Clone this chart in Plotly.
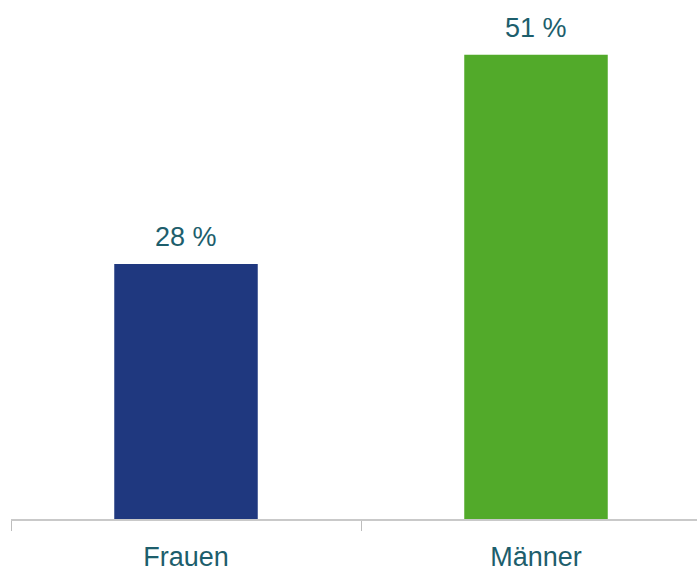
import plotly.graph_objects as go

categories = ["Frauen", "Männer"]
values = [28, 51]
value_labels = ["28 %", "51 %"]
bar_colors = ["#1f387f", "#52aa2a"]

text_color = "#1d5e6c"
font_family = "Liberation Sans, Arial, Helvetica, sans-serif"

fig = go.Figure(
    go.Bar(
        x=categories,
        y=values,
        marker=dict(color=bar_colors, line=dict(width=0)),
        width=0.41,
        hoverinfo="skip",
    )
)

for cat, val, lab in zip(categories, values, value_labels):
    fig.add_annotation(
        x=cat, y=val, text=lab, showarrow=False,
        yanchor="bottom", yshift=10,
        font=dict(family=font_family, size=27, color=text_color),
    )

fig.update_layout(
    width=697,
    height=572,
    margin=dict(l=11, r=0, t=0, b=53),
    paper_bgcolor="white",
    plot_bgcolor="white",
    showlegend=False,
    font=dict(family=font_family, size=27, color=text_color),
)

fig.update_xaxes(
    type="category",
    range=[-0.5, 1.46],
    showline=True,
    linecolor="#c9c9c9",
    linewidth=1.5,
    ticks="outside",
    tickson="boundaries",
    ticklen=10,
    tickwidth=1,
    tickcolor="#bdbdbd",
    ticklabelstandoff=13,
    showgrid=False,
    zeroline=False,
    tickfont=dict(family=font_family, size=27, color=text_color),
)
fig.update_yaxes(
    range=[0, 57],
    visible=False,
    showgrid=False,
    zeroline=False,
)

fig.write_html("out.html")
